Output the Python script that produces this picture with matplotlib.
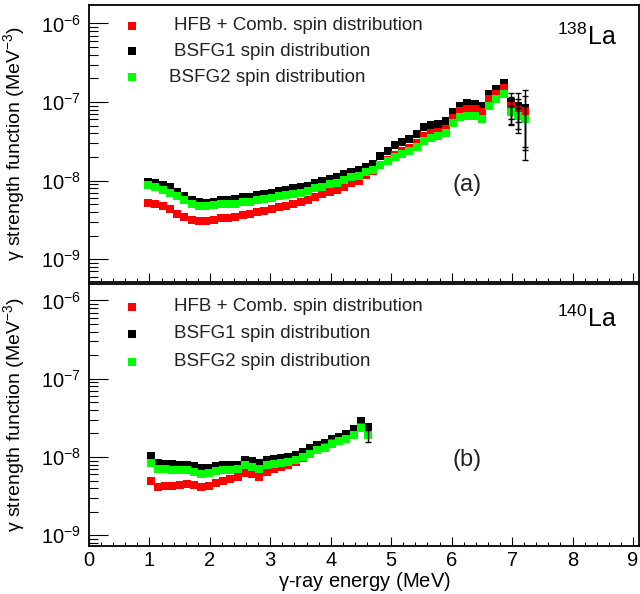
import matplotlib
matplotlib.use('Agg')
import matplotlib.pyplot as plt
from matplotlib.ticker import FixedLocator, LogFormatterMathtext, MultipleLocator, NullFormatter
import numpy as np

plt.rcParams['font.family'] = ['Liberation Sans', 'DejaVu Sans']
plt.rcParams['mathtext.fontset'] = 'custom'
plt.rcParams['mathtext.rm'] = 'Liberation Sans'
plt.rcParams['mathtext.it'] = 'Liberation Sans:italic'
plt.rcParams['mathtext.default'] = 'regular'
plt.rcParams['axes.unicode_minus'] = False

# ---------------- data: 138La ----------------
E138 = [0.98, 1.10, 1.22, 1.34, 1.46, 1.58, 1.70, 1.82, 1.94, 2.06, 2.18, 2.30, 2.42, 2.54,
        2.66, 2.78, 2.90, 3.02, 3.14, 3.26, 3.38, 3.50, 3.62, 3.74, 3.86, 3.98, 4.10, 4.22,
        4.34, 4.46, 4.58, 4.70, 4.82, 4.94, 5.06, 5.18, 5.30, 5.42, 5.54, 5.66, 5.78, 5.90,
        6.02, 6.14, 6.26, 6.38, 6.50, 6.62, 6.74, 6.86, 6.98, 7.10, 7.22]
bsfg1_138 = [9.6e-9, 9.3e-9, 8.8e-9, 8.2e-9, 7.2e-9, 6.3e-9, 5.7e-9, 5.3e-9, 5.2e-9, 5.4e-9,
             5.7e-9, 5.7e-9, 5.8e-9, 6.1e-9, 6.2e-9, 6.5e-9, 6.7e-9, 6.9e-9, 7.3e-9, 7.6e-9,
             8.0e-9, 8.3e-9, 8.6e-9, 9.4e-9, 9.9e-9, 1.05e-8, 1.1e-8, 1.2e-8, 1.3e-8, 1.35e-8,
             1.5e-8, 1.65e-8, 2.05e-8, 2.4e-8, 2.8e-8, 3.1e-8, 3.4e-8, 3.9e-8, 4.8e-8, 5.1e-8,
             5.25e-8, 5.7e-8, 7.4e-8, 9.0e-8, 9.7e-8, 9.5e-8, 8.8e-8, 1.27e-7, 1.47e-7, 1.75e-7,
             1.0e-7, 9.0e-8, 8.4e-8]
hfb_138 = [5.2e-9, 5.0e-9, 4.7e-9, 4.3e-9, 3.8e-9, 3.4e-9, 3.2e-9, 3.1e-9, 3.05e-9, 3.15e-9,
           3.3e-9, 3.35e-9, 3.45e-9, 3.6e-9, 3.75e-9, 4.0e-9, 4.15e-9, 4.3e-9, 4.6e-9, 4.8e-9,
           5.1e-9, 5.4e-9, 5.7e-9, 6.2e-9, 6.7e-9, 7.2e-9, 7.5e-9, 8.4e-9, 9.2e-9, 1.0e-8,
           1.17e-8, 1.33e-8, 1.6e-8, 1.85e-8, 2.1e-8, 2.35e-8, 2.6e-8, 3.0e-8, 3.7e-8, 4.0e-8,
           4.2e-8, 4.6e-8, 6.2e-8, 7.6e-8, 8.1e-8, 8.1e-8, 7.5e-8, 1.08e-7, 1.28e-7, 1.5e-7,
           8.8e-8, 8.0e-8, 7.6e-8]
bsfg2_138 = [8.7e-9, 8.3e-9, 7.7e-9, 7.0e-9, 6.3e-9, 5.6e-9, 5.1e-9, 4.8e-9, 4.75e-9, 4.9e-9,
             5.0e-9, 5.0e-9, 5.1e-9, 5.3e-9, 5.4e-9, 5.6e-9, 5.8e-9, 6.0e-9, 6.3e-9, 6.5e-9,
             6.8e-9, 7.0e-9, 7.4e-9, 8.0e-9, 8.3e-9, 9.0e-9, 9.4e-9, 1.02e-8, 1.1e-8, 1.15e-8,
             1.28e-8, 1.38e-8, 1.6e-8, 1.8e-8, 2.0e-8, 2.2e-8, 2.4e-8, 2.7e-8, 3.2e-8, 3.5e-8,
             3.7e-8, 4.0e-8, 5.4e-8, 6.4e-8, 6.7e-8, 6.6e-8, 6.1e-8, 8.9e-8, 1.08e-7, 1.25e-7,
             7.4e-8, 6.6e-8, 6.0e-8]
# error bars (lower / upper bounds) for the last points of 138La
errE_138 = [6.98, 7.10, 7.22]
err_bsfg1_138_lo = [5.3e-8, 4.0e-8, 1.85e-8]
err_bsfg1_138_hi = [1.3e-7, 1.3e-7, 1.43e-7]
err_hfb_138_lo = [6.0e-8, 5.5e-8, 2.7e-8]
err_hfb_138_hi = [1.15e-7, 1.1e-7, 1.2e-7]
err_bsfg2_138_lo = [5.1e-8, 4.5e-8, 2.45e-8]
err_bsfg2_138_hi = [9.0e-8, 8.5e-8, 9.0e-8]

# ---------------- data: 140La ----------------
E140 = [1.02, 1.14, 1.26, 1.38, 1.50, 1.62, 1.74, 1.86, 1.98, 2.10, 2.22, 2.34, 2.46, 2.58,
        2.70, 2.82, 2.94, 3.06, 3.18, 3.30, 3.42, 3.54, 3.66, 3.78, 3.90, 4.02, 4.14, 4.26,
        4.38, 4.50, 4.62]
bsfg1_140 = [1.02e-8, 8.4e-9, 8.2e-9, 8.1e-9, 8.0e-9, 8.0e-9, 7.6e-9, 7.2e-9, 7.3e-9, 7.6e-9,
             7.8e-9, 7.8e-9, 8.0e-9, 9.1e-9, 8.8e-9, 8.4e-9, 9.2e-9, 9.4e-9, 9.8e-9, 9.9e-9,
             1.05e-8, 1.15e-8, 1.3e-8, 1.42e-8, 1.52e-8, 1.7e-8, 1.82e-8, 1.95e-8, 2.3e-8,
             2.85e-8, 2.45e-8]
hfb_140 = [5.0e-9, 4.2e-9, 4.25e-9, 4.3e-9, 4.4e-9, 4.5e-9, 4.4e-9, 4.1e-9, 4.3e-9, 4.7e-9,
           5.0e-9, 5.3e-9, 5.6e-9, 6.2e-9, 6.0e-9, 5.6e-9, 6.5e-9, 7.0e-9, 7.5e-9, 7.8e-9,
           8.6e-9, 9.8e-9, 1.1e-8, 1.22e-8, 1.33e-8, 1.5e-8, 1.62e-8, 1.72e-8, 1.92e-8,
           2.4e-8, 1.95e-8]
bsfg2_140 = [8.5e-9, 7.1e-9, 7.0e-9, 6.9e-9, 6.9e-9, 6.9e-9, 6.5e-9, 6.1e-9, 6.2e-9, 6.6e-9,
             6.8e-9, 6.8e-9, 7.0e-9, 7.8e-9, 7.5e-9, 7.1e-9, 7.9e-9, 8.2e-9, 8.5e-9, 8.6e-9,
             9.1e-9, 1.0e-8, 1.1e-8, 1.22e-8, 1.32e-8, 1.48e-8, 1.6e-8, 1.7e-8, 1.9e-8,
             2.35e-8, 1.9e-8]
errE_140 = [4.62]
err_bsfg2_140_lo = [1.55e-8]
err_bsfg2_140_hi = [2.2e-8]

labels = ["HFB + Comb. spin distribution", "BSFG1 spin distribution", "BSFG2 spin distribution"]
colors = ["#ff0000", "#000000", "#00ff00"]
x_ticks = [0, 1, 2, 3, 4, 5, 6, 7, 8, 9]
y_ticks = [1e-9, 1e-8, 1e-7, 1e-6]

fig = plt.figure(figsize=(6.4, 5.94), dpi=100)
W, H = 640.0, 594.0
ax1 = fig.add_axes([89 / W, (H - 282) / H, 550 / W, 277 / H])
ax2 = fig.add_axes([89 / W, (H - 545.5) / H, 550 / W, 261.5 / H])

ms = 6.0


def draw(ax, E, hfb, b1, b2, errs):
    ax.plot(E, b1, ls='none', marker='s', ms=ms, mew=0, color=colors[1], zorder=3)
    ax.plot(E, hfb, ls='none', marker='s', ms=ms, mew=0, color=colors[0], zorder=4)
    ax.plot(E, b2, ls='none', marker='s', ms=ms, mew=0, color=colors[2], zorder=5)
    for (eE, vals, lo, hi) in errs:
        idx = [E.index(e) for e in eE]
        v = np.array([vals[i] for i in idx])
        ax.errorbar(eE, v, yerr=[v - np.array(lo), np.array(hi) - v], fmt='none',
                    ecolor='black', elinewidth=1.0, capsize=2.5, capthick=1.0, zorder=6)


draw(ax1, E138, hfb_138, bsfg1_138, bsfg2_138,
     [(errE_138, bsfg1_138, err_bsfg1_138_lo, err_bsfg1_138_hi),
      (errE_138, hfb_138, err_hfb_138_lo, err_hfb_138_hi),
      (errE_138, bsfg2_138, err_bsfg2_138_lo, err_bsfg2_138_hi)])
draw(ax2, E140, hfb_140, bsfg1_140, bsfg2_140,
     [(errE_140, bsfg2_140, err_bsfg2_140_lo, err_bsfg2_140_hi)])

ylims = [(10 ** -9.29, 10 ** -5.765), (10 ** -9.13, 10 ** -5.79)]
for ax, yl in zip([ax1, ax2], ylims):
    ax.set_yscale('log')
    ax.set_xlim(0, 9.1)
    ax.set_ylim(*yl)
    ax.set_xticks(x_ticks)
    ax.xaxis.set_minor_locator(MultipleLocator(0.2))
    ax.yaxis.set_major_locator(FixedLocator(y_ticks))
    ax.yaxis.set_major_formatter(LogFormatterMathtext())
    minors = [m * d for d in [1e-10, 1e-9, 1e-8, 1e-7, 1e-6] for m in range(2, 10)
              if yl[0] <= m * d <= yl[1]]
    ax.yaxis.set_minor_locator(FixedLocator(minors))
    ax.yaxis.set_minor_formatter(NullFormatter())
    ax.tick_params(axis='y', which='major', direction='in', length=13.5, width=0.8,
                   right=False, labelsize=14.5, pad=6)
    ax.tick_params(axis='y', which='minor', direction='in', length=6.5, width=0.8, right=False)
    ax.tick_params(axis='x', which='major', direction='in', length=6.5, width=0.8,
                   top=False, labelsize=14.5, pad=4)
    ax.tick_params(axis='x', which='minor', direction='in', length=3.2, width=0.8, top=False)
    for s in ax.spines.values():
        s.set_linewidth(1.3)
    ax.set_ylabel(r"$\gamma$ strength function (MeV$^{-3}$)", fontsize=14)
    ax.yaxis.set_label_coords(-0.113, 0.5)

ax1.tick_params(axis='x', labelbottom=False)
ax2.set_xlabel(r"$\gamma$-ray energy (MeV)", fontsize=14.5, labelpad=0)


def legend(ax, rows_px, top_px, height_px, text_x):
    for (lab, col, rpx, tx) in zip(labels, colors, rows_px, text_x):
        yf = 1 - (rpx - top_px) / height_px
        ax.plot([(132 - 89) / 550.0], [yf], transform=ax.transAxes, ls='none', marker='s',
                ms=6, mew=0, color=col, clip_on=False, zorder=7)
        ax.text((tx - 89) / 550.0, yf, lab, transform=ax.transAxes, fontsize=13.5,
                va='center', ha='left', color='#222222')


legend(ax1, [26, 51, 77], 5, 277, [174, 174, 169])
legend(ax2, [307, 334, 362], 284, 261.5, [174, 174, 174])

ax1.text(0.96, 1 - 40 / 277.0, r"$^{138}$La", transform=ax1.transAxes, fontsize=18,
         ha='right', va='baseline')
ax2.text(0.96, 1 - 43 / 261.5, r"$^{140}$La", transform=ax2.transAxes, fontsize=18,
         ha='right', va='baseline')
ax1.text(0.687, 0.35, "(a)", transform=ax1.transAxes, fontsize=17, ha='center', va='center',
         color='#222222')
ax2.text(0.687, 0.327, "(b)", transform=ax2.transAxes, fontsize=17, ha='center', va='center',
         color='#222222')

fig.savefig('out.png', dpi=100)
